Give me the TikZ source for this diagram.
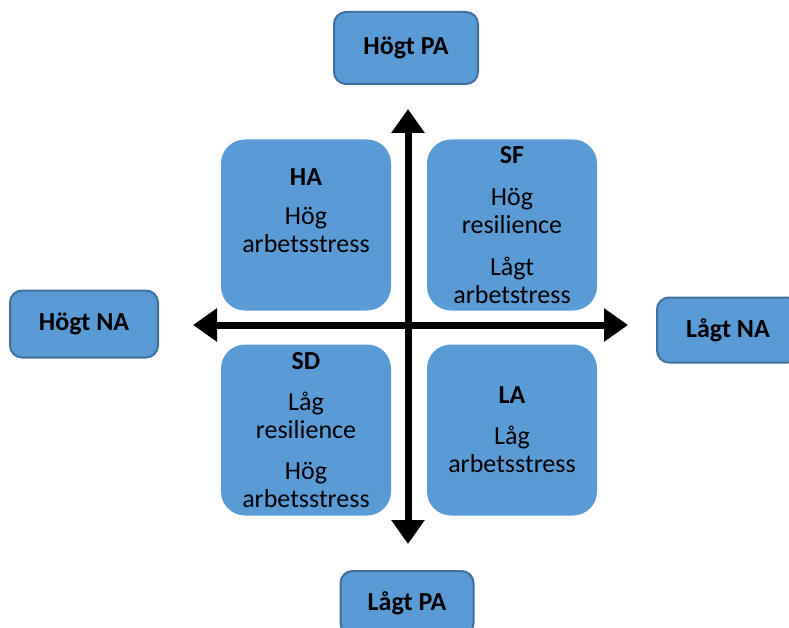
\documentclass[tikz,border=0pt]{standalone}
\usepackage{fontspec}
\setmainfont{Carlito}
\usetikzlibrary{positioning,arrows.meta}
\definecolor{boxblue}{HTML}{5B9BD5}
\definecolor{edgeblue}{HTML}{41719C}

\begin{document}
\begin{tikzpicture}[x=1pt, y=-1pt,
  quad/.style={fill=boxblue, rounded corners=24pt, minimum width=170pt, minimum height=171pt,
    align=center, inner sep=0pt, font=\fontsize{26}{28}\selectfont},
  pole/.style={fill=boxblue, draw=edgeblue, line width=2pt, rounded corners=12pt,
    font=\fontsize{26}{28}\selectfont\bfseries},
  axis/.style={line width=7pt, {Triangle[length=24pt,width=32pt]}-{Triangle[length=24pt,width=32pt]}}]
\useasboundingbox (0,0) rectangle (789,628);
\clip (0,0) rectangle (789,628);

% Outer labels %
\node[pole, minimum width=144pt, minimum height=72pt] (hogtpa) at (406,48) {Högt PA};
\node[pole, minimum width=148pt, minimum height=67pt] (hogtna) at (84,324) {Högt NA};
\node[pole, minimum width=142pt, minimum height=65pt] (lagtna) at (728,330) {Lågt NA};
\node[pole, minimum width=133pt, minimum height=64pt] (lagtpa) at (407,603) {Lågt PA};

% Quadrants %
\coordinate (o) at (408,325);
\node[quad] (ha) at (306,225) {\textbf{HA}\\[11pt] Hög\\ arbetsstress\\ \mbox{}};
\node[quad] (sf) at (512,225) {\textbf{SF}\\[14pt] Hög\\ resilience\\[14pt] Lågt\\ arbetstress};
\node[quad] (sd) at (306,430) {\textbf{SD}\\[13pt] Låg\\ resilience\\[13pt] Hög\\ arbetsstress};
\node[quad] (la) at (512,430) {\textbf{LA}\\[13pt] Låg\\ arbetsstress};

% Axes %
\draw[axis, shorten <=26pt, shorten >=24pt] (o |- lagtpa.north) -- (o |- hogtpa.south);
\draw[axis, shorten <=34pt, shorten >=28pt] (hogtna.east |- o) -- (lagtna.west |- o);

\end{tikzpicture}
\end{document}
